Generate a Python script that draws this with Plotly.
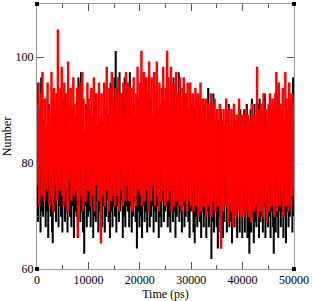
import plotly.graph_objects as go

step_ps = 125
n_points = 400
time_ps = [i * step_ps for i in range(n_points)]

black_hb = [
    95, 69, 86, 72, 90, 67, 96, 71, 84, 70, 88, 73, 92, 68, 83, 71, 87, 66, 91, 72,
    85, 70, 89, 67, 65, 84, 88, 71, 90, 69, 84, 73, 87, 68, 86, 72, 91, 70, 83, 67,
    88, 72, 84, 69, 93, 71, 83, 67, 89, 73, 86, 70, 84, 68, 90, 72, 85, 66, 87, 71,
    84, 70, 92, 68, 96, 72, 88, 69, 97, 71, 90, 67, 85, 63, 84, 72, 91, 68, 87, 70,
    86, 71, 90, 68, 83, 72, 88, 66, 85, 70, 93, 69, 83, 73, 87, 67, 89, 71, 84, 70,
    85, 68, 88, 72, 91, 67, 86, 70, 83, 73, 89, 69, 87, 66, 95, 71, 85, 68, 90, 72,
    96, 70, 101, 67, 94, 72, 91, 69, 97, 71, 87, 73, 93, 66, 90, 70, 96, 68, 86, 72,
    95, 71, 85, 68, 97, 72, 87, 67, 84, 70, 91, 73, 86, 69, 89, 64, 84, 71, 92, 68,
    87, 70, 93, 66, 84, 72, 90, 69, 96, 71, 86, 67, 88, 73, 83, 68, 92, 70, 85, 72,
    89, 67, 84, 71, 93, 69, 86, 72, 88, 66, 83, 70, 91, 68, 85, 73, 90, 69, 87, 71,
    84, 72, 88, 68, 91, 70, 83, 67, 87, 73, 89, 69, 96, 71, 94, 66, 82, 70, 88, 72,
    97, 69, 95, 71, 83, 67, 88, 72, 85, 68, 93, 70, 82, 73, 87, 69, 84, 66, 89, 71,
    83, 71, 87, 67, 90, 65, 85, 70, 88, 68, 82, 72, 91, 69, 84, 66, 89, 71, 86, 68,
    91, 70, 88, 66, 83, 71, 94, 68, 86, 72, 82, 62, 87, 69, 93, 67, 84, 71, 81, 68,
    86, 64, 88, 70, 83, 67, 90, 71, 84, 66, 87, 69, 82, 72, 89, 67, 85, 70, 91, 68,
    84, 69, 87, 65, 82, 71, 89, 68, 85, 70, 81, 66, 88, 72, 83, 67, 90, 70, 86, 66,
    88, 70, 90, 67, 86, 72, 91, 66, 88, 69, 63, 71, 90, 67, 92, 70, 87, 65, 91, 69,
    86, 68, 90, 71, 91, 66, 92, 69, 85, 70, 89, 67, 90, 72, 93, 66, 87, 70, 84, 68,
    88, 70, 84, 66, 90, 71, 82, 68, 63, 72, 87, 67, 85, 70, 93, 66, 84, 71, 89, 68,
    86, 71, 83, 66, 88, 70, 85, 65, 90, 71, 82, 68, 87, 70, 92, 72, 89, 67, 96, 70,
]

red_hb = [
    91, 76, 95, 72, 88, 79, 93, 74, 97, 78, 87, 73, 92, 77, 86, 75, 95, 79, 90, 72,
    88, 78, 97, 74, 92, 71, 94, 79, 87, 76, 93, 73, 105, 77, 89, 75, 94, 80, 98, 74,
    92, 72, 95, 78, 87, 75, 93, 71, 99, 77, 90, 79, 94, 73, 88, 76, 96, 74, 91, 78,
    89, 75, 94, 66, 91, 72, 95, 79, 88, 74, 97, 71, 92, 78, 86, 73, 90, 80, 95, 75,
    92, 77, 87, 72, 94, 79, 89, 74, 96, 71, 90, 76, 93, 78, 86, 73, 95, 75, 89, 65,
    93, 74, 88, 79, 95, 72, 90, 77, 98, 75, 87, 71, 94, 78, 89, 73, 97, 76, 92, 74,
    89, 72, 94, 77, 92, 74, 96, 71, 87, 79, 93, 75, 90, 72, 95, 78, 88, 73, 97, 76,
    92, 78, 95, 73, 89, 76, 94, 71, 90, 79, 96, 74, 87, 72, 93, 77, 98, 75, 91, 78,
    95, 74, 101, 72, 94, 78, 97, 73, 91, 80, 96, 75, 93, 71, 99, 77, 90, 73, 96, 76,
    89, 78, 97, 72, 93, 76, 99, 74, 90, 71, 95, 79, 91, 73, 94, 77, 98, 75, 92, 72,
    94, 76, 101, 73, 96, 78, 91, 75, 98, 71, 93, 77, 95, 72, 90, 79, 97, 73, 93, 76,
    92, 72, 96, 77, 90, 71, 94, 75, 96, 73, 89, 78, 93, 71, 95, 76, 90, 73, 95, 72,
    91, 75, 93, 71, 88, 77, 94, 72, 92, 76, 93, 70, 89, 74, 95, 71, 90, 77, 92, 72,
    89, 74, 92, 70, 87, 77, 91, 72, 90, 75, 93, 70, 88, 73, 91, 76, 92, 71, 88, 74,
    90, 72, 87, 76, 91, 70, 64, 74, 88, 71, 90, 77, 87, 72, 92, 75, 89, 69, 90, 74,
    87, 71, 90, 75, 86, 68, 91, 73, 88, 70, 89, 76, 86, 71, 92, 74, 87, 70, 89, 73,
    89, 70, 86, 74, 90, 71, 87, 76, 89, 70, 86, 73, 88, 69, 91, 75, 86, 71, 89, 72,
    87, 73, 98, 70, 90, 75, 86, 71, 91, 74, 88, 70, 93, 76, 86, 72, 90, 69, 88, 74,
    91, 71, 93, 76, 88, 72, 92, 75, 90, 70, 93, 77, 97, 71, 89, 74, 95, 72, 91, 76,
    90, 73, 94, 70, 88, 76, 97, 72, 92, 75, 89, 71, 95, 77, 88, 72, 93, 74, 91, 75,
]

x_ticks = [0, 10000, 20000, 30000, 40000, 50000]
y_ticks = [60, 80, 100]

font_family = "Liberation Serif, Times New Roman, serif"

fig = go.Figure()
fig.add_trace(go.Scatter(x=time_ps, y=black_hb, mode="lines",
                         line=dict(color="black", width=1.4, shape="hv"), showlegend=False))
fig.add_trace(go.Scatter(x=time_ps, y=red_hb, mode="lines",
                         line=dict(color="red", width=1.8, shape="hv"), showlegend=False))

axis_common = dict(
    showline=True, linecolor="#999999", linewidth=1, mirror="allticks",
    ticks="inside", tickcolor="#555555", ticklen=7, tickwidth=1,
    showgrid=False, zeroline=False,
    tickfont=dict(family=font_family, size=12, color="black"),
)

fig.update_layout(
    width=312, height=301,
    margin=dict(l=36, r=16, t=3, b=27),
    paper_bgcolor="white", plot_bgcolor="white",
    font=dict(family=font_family, color="black"),
    xaxis=dict(range=[0, 50000], tickvals=x_ticks, ticktext=[str(v) for v in x_ticks],
               minor=dict(ticks="inside", ticklen=4, tickcolor="#555555", dtick=5000, showgrid=False),
               title=dict(text="Time (ps)", font=dict(family=font_family, size=12), standoff=2),
               **axis_common),
    yaxis=dict(range=[60, 110], tickvals=y_ticks, ticktext=[str(v) for v in y_ticks],
               minor=dict(ticks="inside", ticklen=4, tickcolor="#555555", dtick=10, showgrid=False),
               title=dict(text="Number", font=dict(family=font_family, size=12), standoff=4),
               **axis_common),
)

corners = [(0, 0), (1, 0), (0, 1), (1, 1)]
for cx, cy in corners:
    fig.add_shape(type="rect", xref="paper", yref="paper",
                  xsizemode="pixel", ysizemode="pixel",
                  xanchor=cx, yanchor=cy, x0=-2, x1=2, y0=-2, y1=2,
                  fillcolor="black", line=dict(width=0))

fig.write_html("out.html")
